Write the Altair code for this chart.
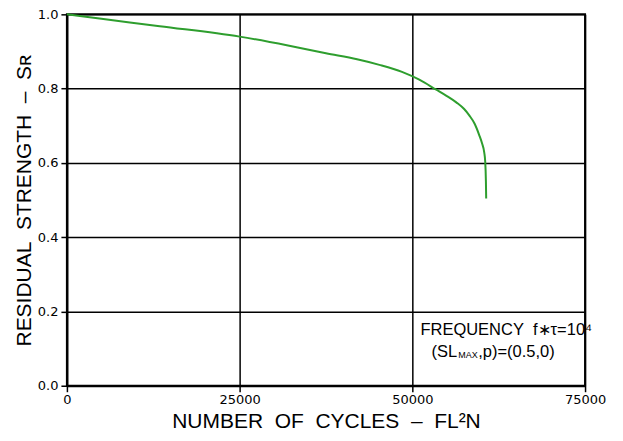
import altair as alt
import pandas as pd

cycles = [0, 5000, 13440, 25000, 32000, 37500, 42000, 45230, 48500, 51010, 53470, 55000, 56360, 57500, 58240, 59000, 59680, 60100, 60400, 60550, 60650, 60690]
strength = [1.0, 0.988, 0.968, 0.940, 0.916, 0.895, 0.879, 0.864, 0.845, 0.824, 0.797, 0.780, 0.763, 0.745, 0.728, 0.706, 0.675, 0.652, 0.629, 0.603, 0.55, 0.504]

x_ticks = [0, 25000, 50000, 75000]
y_ticks = [0.0, 0.2, 0.4, 0.6, 0.8, 1.0]

NB = "\u00a0"
x_title = f"NUMBER{NB}{NB}OF{NB}{NB}CYCLES{NB}{NB}–{NB}{NB}FL²N"
y_title = f"RESIDUAL{NB}{NB}STRENGTH{NB}{NB}–{NB}{NB}Sʀ"

note1_text = [f"FREQUENCY{NB}{NB}f∗τ=10⁴"]
note1_x = [63600]
note1_y = [0.149]
note2_parts = ["(SL", "MAX", ",p)=(0.5,0)"]
note2_x = [56500]
note2_y = [0.091]

df = pd.DataFrame({"N": cycles, "S": strength})

x_scale = alt.Scale(domain=[0, 75000], nice=False, zero=False)
y_scale = alt.Scale(domain=[0, 1.0], nice=False)

line = alt.Chart(df).mark_line(color="#2e9e2e", strokeWidth=2, interpolate="monotone").encode(
    x=alt.X("N:Q", scale=x_scale,
            axis=alt.Axis(values=x_ticks, title=x_title, format="d", labelFlush=False)),
    y=alt.Y("S:Q", scale=y_scale,
            axis=alt.Axis(values=y_ticks, title=y_title, format=".1f")),
    order="N:Q",
)

def txt(t, x, y, align, size, dx=0, dy=0):
    d = pd.DataFrame({"t": t, "x": x, "y": y})
    return alt.Chart(d).mark_text(font="Liberation Sans", fontSize=size, color="black",
                                  align=align, baseline="middle", dx=dx, dy=dy).encode(
        x=alt.X("x:Q", scale=x_scale), y=alt.Y("y:Q", scale=y_scale), text="t:N")

t1 = txt(note1_text, note1_x, note1_y, "center", 16.5)
t2a = txt([note2_parts[0]], note2_x, note2_y, "right", 16.5)
t2b = txt([note2_parts[1]], note2_x, note2_y, "left", 9, dx=1, dy=3)
t2c = txt([note2_parts[2]], note2_x, note2_y, "left", 16.5, dx=21)

chart = alt.layer(line, t1, t2a, t2b, t2c).properties(
    width=519, height=372,
    autosize=alt.AutoSizeParams(type="none"),
    padding={"left": 59, "top": 6, "right": 30, "bottom": 47},
).configure_view(stroke="black", strokeWidth=2).configure_axis(
    grid=True, gridColor="black", gridWidth=1.5, gridOpacity=1,
    domainColor="black", domainWidth=2,
    tickColor="black", tickSize=6, tickWidth=1.5,
    labelFont="DejaVu Sans", labelFontSize=13, labelColor="black",
    titleFont="Liberation Sans", titleFontSize=21, titleFontWeight="normal", titleColor="black",
).configure_axisX(labelPadding=2, titlePadding=4).configure_axisY(labelPadding=3, titlePadding=3)

chart.save("out.html", embed_options={"renderer": "svg", "actions": False})
